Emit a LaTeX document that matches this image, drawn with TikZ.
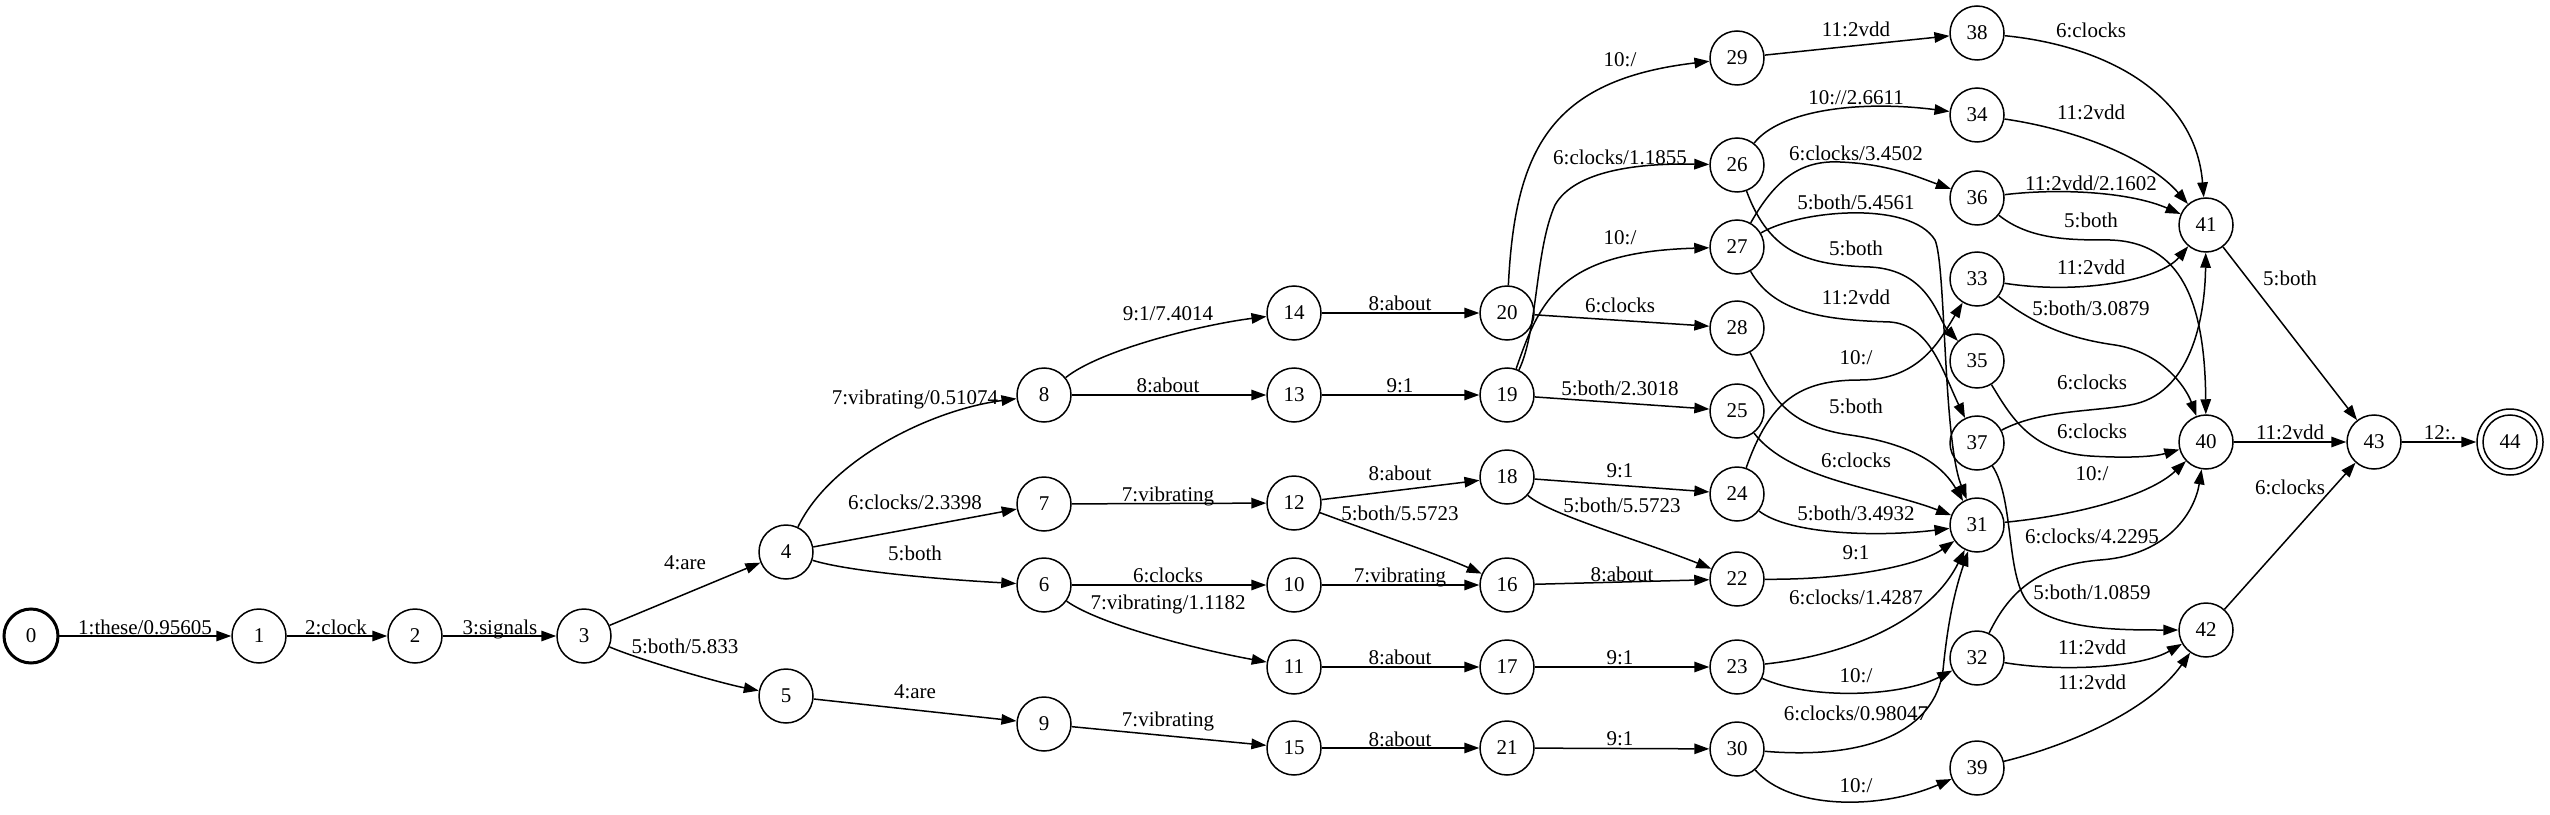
\documentclass[tikz,border=0pt]{standalone}
\usepackage{fontspec}
\setmainfont{Liberation Serif}
\usetikzlibrary{arrows.meta}
\tikzset{
  st/.style={circle, draw, line width=1pt, minimum size=36pt, inner sep=0pt, font=\fontsize{14}{16}\selectfont},
  lbl/.style={inner sep=0pt, text height=9.4pt, text depth=0pt, font=\fontsize{14}{16}\selectfont},
  e/.style={-{Triangle[length=10pt,width=7pt]}, line width=1pt}
}
\begin{document}
\begin{tikzpicture}[x=0.6667pt, y=-0.6667pt]
\useasboundingbox (0,0) rectangle (2550,815);
% nodes
\node[st, line width=2pt] (n0) at (31,636) {0};
\node[st] (n1) at (259,636) {1};
\node[st] (n2) at (415,636) {2};
\node[st] (n3) at (584,636) {3};
\node[st] (n4) at (786,552) {4};
\node[st] (n5) at (786,696) {5};
\node[st] (n8) at (1044,395) {8};
\node[st] (n7) at (1044,504) {7};
\node[st] (n6) at (1044,585) {6};
\node[st] (n9) at (1044,724) {9};
\node[st] (n14) at (1294,313) {14};
\node[st] (n13) at (1294,395) {13};
\node[st] (n12) at (1294,503) {12};
\node[st] (n10) at (1294,585) {10};
\node[st] (n11) at (1294,667) {11};
\node[st] (n15) at (1294,748) {15};
\node[st] (n20) at (1507,313) {20};
\node[st] (n19) at (1507,395) {19};
\node[st] (n18) at (1507,477) {18};
\node[st] (n16) at (1507,585) {16};
\node[st] (n17) at (1507,667) {17};
\node[st] (n21) at (1507,748) {21};
\node[st] (n29) at (1737,58) {29};
\node[st] (n26) at (1737,165) {26};
\node[st] (n27) at (1737,247) {27};
\node[st] (n28) at (1737,328) {28};
\node[st] (n25) at (1737,411) {25};
\node[st] (n24) at (1737,494) {24};
\node[st] (n22) at (1737,579) {22};
\node[st] (n23) at (1737,667) {23};
\node[st] (n30) at (1737,749) {30};
\node[st] (n38) at (1977,33) {38};
\node[st] (n34) at (1977,115) {34};
\node[st] (n36) at (1977,198) {36};
\node[st] (n33) at (1977,279) {33};
\node[st] (n35) at (1977,361) {35};
\node[st] (n37) at (1977,443) {37};
\node[st] (n31) at (1977,525) {31};
\node[st] (n32) at (1977,658) {32};
\node[st] (n39) at (1977,768) {39};
\node[st] (n41) at (2206,225) {41};
\node[st] (n40) at (2206,442) {40};
\node[st] (n42) at (2206,630) {42};
\node[st] (n43) at (2374,442) {43};
\node[st, minimum size=44pt] (n44) at (2510,442) {44};
\draw[line width=1pt] (n44.center) circle (18pt);
% straight edges
\draw[e] (n0) -- (n1);
\draw[e] (n1) -- (n2);
\draw[e] (n2) -- (n3);
\draw[e] (n3) -- (n4);
\draw[e] (n4) -- (n7);
\draw[e] (n5) -- (n9);
\draw[e] (n9) -- (n15);
\draw[e] (n8) -- (n13);
\draw[e] (n7) -- (n12);
\draw[e] (n6) -- (n10);
\draw[e] (n10) -- (n16);
\draw[e] (n11) -- (n17);
\draw[e] (n15) -- (n21);
\draw[e] (n14) -- (n20);
\draw[e] (n13) -- (n19);
\draw[e] (n12) -- (n18);
\draw[e] (n16) -- (n22);
\draw[e] (n18) -- (n24);
\draw[e] (n17) -- (n23);
\draw[e] (n21) -- (n30);
\draw[e] (n20) -- (n28);
\draw[e] (n19) -- (n25);
\draw[e] (n29) -- (n38);
\draw[e] (n40) -- (n43);
\draw[e] (n42) -- (n43);
\draw[e] (n41) -- (n43);
\draw[e] (n43) -- (n44);
% curved edges
\draw[e] (n3) .. controls (640,660) and (720,683) .. (n5);
\draw[e] (n4) .. controls (850,572) and (950,580) .. (n6);
\draw[e] (n4) .. controls (830,460) and (930,410) .. (n8);
\draw[e] (n8) .. controls (1100,350) and (1200,325) .. (n14);
\draw[e] (n6) .. controls (1100,625) and (1200,650) .. (n11);
\draw[e] (n12) .. controls (1380,535) and (1440,555) .. (n16);
\draw[e] (n18) .. controls (1550,515) and (1640,540) .. (n22);
\draw[e] (n19) .. controls (1538,330) and (1535,250) .. (1555,205) .. controls (1575,170) and (1640,163) .. (n26);
\draw[e] (n19) .. controls (1540,300) and (1560,252) .. (n27);
\draw[e] (n20) .. controls (1515,150) and (1550,80) .. (n29);
\draw[e] (n26) .. controls (1780,110) and (1860,100) .. (n34);
\draw[e] (n26) .. controls (1770,255) and (1810,265) .. (1870,267) .. controls (1930,270) and (1938,320) .. (n35);
\draw[e] (n27) .. controls (1775,180) and (1800,160) .. (1840,162) .. controls (1890,164) and (1920,178) .. (n36);
\draw[e] (n27) .. controls (1800,210) and (1910,200) .. (1935,240) .. controls (1946,265) and (1943,440) .. (n31);
\draw[e] (n27) .. controls (1775,315) and (1830,320) .. (1890,322) .. controls (1930,325) and (1942,370) .. (n37);
\draw[e] (n28) .. controls (1770,390) and (1780,425) .. (1850,435) .. controls (1920,445) and (1945,470) .. (n31);
\draw[e] (n25) .. controls (1790,480) and (1880,488) .. (n31);
\draw[e] (n24) .. controls (1790,535) and (1880,537) .. (n31);
\draw[e] (n22) .. controls (1850,580) and (1920,565) .. (n31);
\draw[e] (n23) .. controls (1850,655) and (1930,620) .. (n31);
\draw[e] (n30) .. controls (1870,760) and (1935,730) .. (1943,670) .. controls (1948,620) and (1955,590) .. (n31);
\draw[e] (n23) .. controls (1810,700) and (1900,697) .. (n32);
\draw[e] (n30) .. controls (1790,810) and (1880,810) .. (n39);
\draw[e] (n24) .. controls (1770,400) and (1800,380) .. (1860,380) .. controls (1920,380) and (1940,340) .. (n33);
\draw[e] (n38) .. controls (2100,45) and (2195,90) .. (n41);
\draw[e] (n34) .. controls (2080,130) and (2150,160) .. (n41);
\draw[e] (n36) .. controls (2060,188) and (2130,192) .. (n41);
\draw[e] (n36) .. controls (2030,240) and (2070,240) .. (2110,240) .. controls (2180,242) and (2205,300) .. (n40);
\draw[e] (n33) .. controls (2080,295) and (2160,280) .. (n41);
\draw[e] (n33) .. controls (2040,330) and (2080,340) .. (2115,345) .. controls (2160,352) and (2185,385) .. (n40);
\draw[e] (n37) .. controls (2040,410) and (2090,412) .. (2130,405) .. controls (2190,395) and (2205,320) .. (n41);
\draw[e] (n35) .. controls (2010,415) and (2030,452) .. (2090,456) .. controls (2140,459) and (2160,455) .. (n40);
\draw[e] (n31) .. controls (2080,515) and (2150,495) .. (n40);
\draw[e] (n32) .. controls (2010,590) and (2040,565) .. (2100,560) .. controls (2170,555) and (2195,510) .. (n40);
\draw[e] (n37) .. controls (2015,500) and (2005,580) .. (2030,605) .. controls (2060,630) and (2120,630) .. (n42);
\draw[e] (n32) .. controls (2060,672) and (2140,668) .. (n42);
\draw[e] (n39) .. controls (2070,745) and (2150,710) .. (n42);
% labels
\node[lbl] (l0) at (145,627) {1:these/0.95605};
\node[lbl] (l1) at (336,627) {2:clock};
\node[lbl] (l2) at (500,627) {3:signals};
\node[lbl] (l3a) at (685,562) {4:are};
\node[lbl] (l3b) at (685,646) {5:both/5.833};
\node[lbl] (l4a) at (915,397) {7:vibrating/0.51074};
\node[lbl] (l4b) at (915,502) {6:clocks/2.3398};
\node[lbl] (l4c) at (915,553) {5:both};
\node[lbl] (l5) at (915,691) {4:are};
\node[lbl] (l8a) at (1168,313) {9:1/7.4014};
\node[lbl] (l8b) at (1168,385) {8:about};
\node[lbl] (l7) at (1168,494) {7:vibrating};
\node[lbl] (l6a) at (1168,575) {6:clocks};
\node[lbl] (l6b) at (1168,602) {7:vibrating/1.1182};
\node[lbl] (l9) at (1168,719) {7:vibrating};
\node[lbl] (l14) at (1400,303) {8:about};
\node[lbl] (l13) at (1400,385) {9:1};
\node[lbl] (l12a) at (1400,473) {8:about};
\node[lbl] (l12b) at (1400,513) {5:both/5.5723};
\node[lbl] (l10) at (1400,575) {7:vibrating};
\node[lbl] (l11) at (1400,657) {8:about};
\node[lbl] (l15) at (1400,739) {8:about};
\node[lbl] (l20a) at (1620,59) {10:/};
\node[lbl] (l19a) at (1620,157) {6:clocks/1.1855};
\node[lbl] (l19b) at (1620,237) {10:/};
\node[lbl] (l20b) at (1620,305) {6:clocks};
\node[lbl] (l19c) at (1620,388) {5:both/2.3018};
\node[lbl] (l18a) at (1620,470) {9:1};
\node[lbl] (l18b) at (1622,505) {5:both/5.5723};
\node[lbl] (l16) at (1622,574) {8:about};
\node[lbl] (l17) at (1620,657) {9:1};
\node[lbl] (l21) at (1620,738) {9:1};
\node[lbl] (l29) at (1856,29) {11:2vdd};
\node[lbl] (l26a) at (1856,97) {10://2.6611};
\node[lbl] (l27a) at (1856,153) {6:clocks/3.4502};
\node[lbl] (l27b) at (1856,202) {5:both/5.4561};
\node[lbl] (l26b) at (1856,248) {5:both};
\node[lbl] (l27c) at (1856,297) {11:2vdd};
\node[lbl] (l24a) at (1856,357) {10:/};
\node[lbl] (l28) at (1856,406) {5:both};
\node[lbl] (l25) at (1856,460) {6:clocks};
\node[lbl] (l24b) at (1856,513) {5:both/3.4932};
\node[lbl] (l22) at (1856,552) {9:1};
\node[lbl] (l23a) at (1856,597) {6:clocks/1.4287};
\node[lbl] (l23b) at (1856,675) {10:/};
\node[lbl] (l30a) at (1856,713) {6:clocks/0.98047};
\node[lbl] (l30b) at (1856,785) {10:/};
\node[lbl] (l38) at (2091,30) {6:clocks};
\node[lbl] (l34) at (2091,112) {11:2vdd};
\node[lbl] (l36a) at (2091,183) {11:2vdd/2.1602};
\node[lbl] (l36b) at (2091,220) {5:both};
\node[lbl] (l33a) at (2091,267) {11:2vdd};
\node[lbl] (l33b) at (2091,308) {5:both/3.0879};
\node[lbl] (l37a) at (2092,382) {6:clocks};
\node[lbl] (l35) at (2092,431) {6:clocks};
\node[lbl] (l31) at (2092,473) {10:/};
\node[lbl] (l32a) at (2092,536) {6:clocks/4.2295};
\node[lbl] (l37b) at (2092,592) {5:both/1.0859};
\node[lbl] (l32b) at (2092,647) {11:2vdd};
\node[lbl] (l39) at (2092,682) {11:2vdd};
\node[lbl] (l41) at (2290,278) {5:both};
\node[lbl] (l40) at (2290,432) {11:2vdd};
\node[lbl] (l42) at (2290,487) {6:clocks};
\node[lbl] (l43) at (2440,432) {12:.};
\end{tikzpicture}
\end{document}
